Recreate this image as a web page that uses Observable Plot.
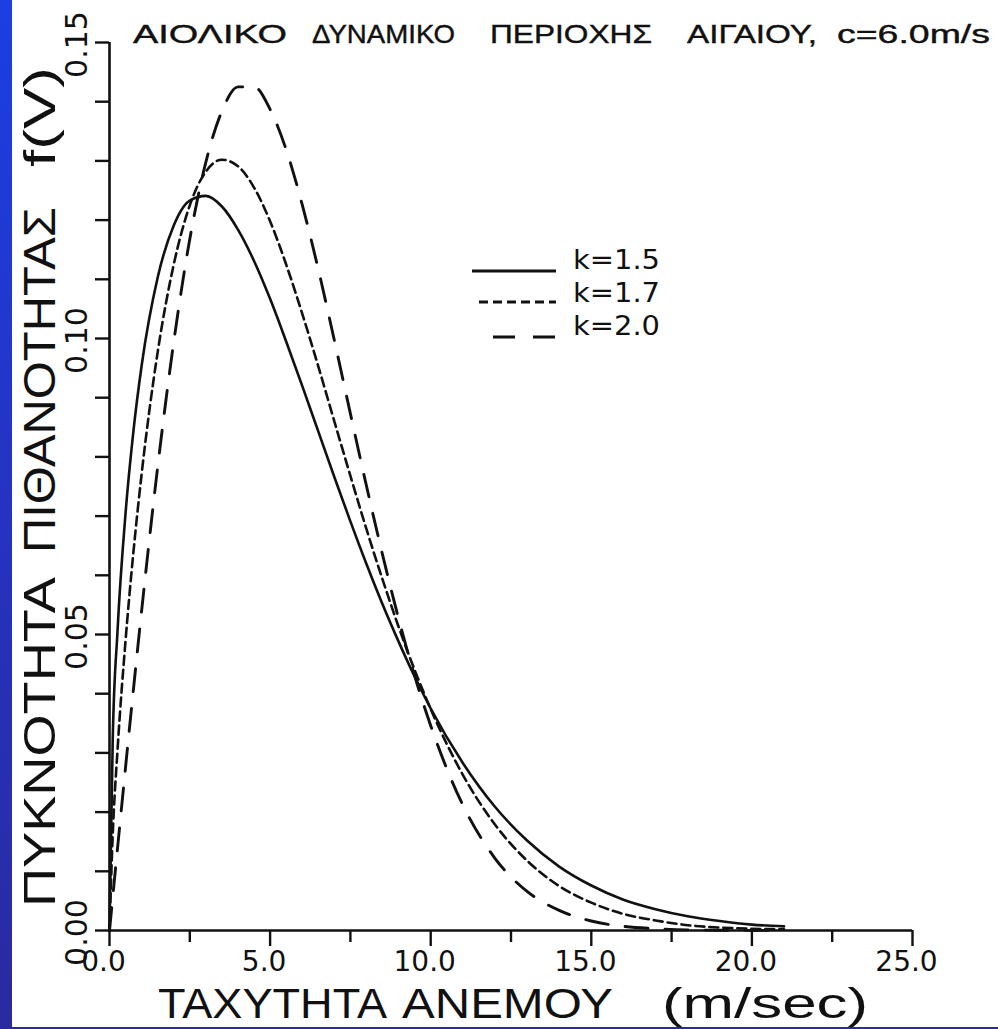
<!DOCTYPE html>
<html>
<head>
<meta charset="utf-8">
<script src="https://cdn.jsdelivr.net/npm/d3@7"></script>
<script src="https://cdn.jsdelivr.net/npm/@observablehq/plot@0.6"></script>
<style>
html, body { margin: 0; padding: 0; width: 998px; height: 1029px; overflow: hidden;
  background: linear-gradient(to bottom, #1b3fe3 0%, #2434c4 45%, #2a2aa0 100%); }
#chart { position: absolute; left: 12px; top: 0; width: 986px; height: 1027px; background: #fff; overflow: hidden; }
</style>
</head>
<body>
<div id="chart"></div>
<script>
// Wind speed (m/s) sample points along the curves
const speeds = [0, 0.1, 0.25, 0.5, 0.75, 1, 1.5, 2, 2.5, 3, 3.5, 4, 4.5, 5, 5.5, 6, 6.5, 7, 7.5, 8, 8.5, 9, 9.5, 10, 11, 12, 13, 14, 15, 16, 17, 18, 19, 20, 21];
// Probability density f(V)
const densK15 = [0, 0.0322, 0.0506, 0.0705, 0.0846, 0.0954, 0.1103, 0.1191, 0.1233, 0.1241, 0.1223, 0.1184, 0.1131, 0.1067, 0.0995, 0.0920, 0.0843, 0.0766, 0.0691, 0.0619, 0.0551, 0.0488, 0.0429, 0.0375, 0.0283, 0.0209, 0.0152, 0.0108, 0.0076, 0.0052, 0.0036, 0.0024, 0.0016, 0.0010, 0.0007];
const densK17 = [0, 0.0161, 0.0305, 0.0490, 0.0642, 0.0771, 0.0977, 0.1125, 0.1225, 0.1282, 0.1302, 0.1291, 0.1255, 0.1198, 0.1125, 0.1042, 0.0953, 0.0860, 0.0768, 0.0678, 0.0593, 0.0513, 0.0440, 0.0374, 0.0263, 0.0179, 0.0118, 0.0075, 0.0047, 0.0028, 0.0017, 0.0009, 0.0005, 0.0003, 0.0002];
const densK20 = [0, 0.0056, 0.0139, 0.0276, 0.0410, 0.0540, 0.0783, 0.0994, 0.1168, 0.1298, 0.1384, 0.1425, 0.1425, 0.1387, 0.1319, 0.1226, 0.1117, 0.0997, 0.0873, 0.0751, 0.0635, 0.0527, 0.0430, 0.0346, 0.0212, 0.0122, 0.0066, 0.0034, 0.0016, 0.0007, 0.0003, 0.0001, 0.00005, 0.00002, 0.00001];
const seriesNames = ["k=1.5", "k=1.7", "k=2.0"];
const xMajorTicks = [0, 5, 10, 15, 20, 25];
const xMinorTicks = [2.5, 7.5, 12.5, 17.5, 22.5];
const yMajorTicks = [0, 0.05, 0.10, 0.15];
const yMinorTicks = [0.01, 0.02, 0.03, 0.04, 0.06, 0.07, 0.08, 0.09, 0.11, 0.12, 0.13, 0.14];

const titleWords = ["ΑΙΟΛΙΚΟ", "ΔΥΝΑΜΙΚΟ", "ΠΕΡΙΟΧΗΣ", "ΑΙΓΑΙΟΥ,", "c=6.0m/s"];
const yTitleWords = ["ΠΥΚΝΟΤΗΤΑ", "ΠΙΘΑΝΟΤΗΤΑΣ", "f(V)"];
const xTitleWords = ["ΤΑΧΥΤΗΤΑ", "ΑΝΕΜΟΥ", "(m/sec)"];

const toRows = (vals, k) => speeds.map((v, i) => ({v, f: vals[i], k}));
const rows15 = toRows(densK15, seriesNames[0]);
const rows17 = toRows(densK17, seriesNames[1]);
const rows20 = toRows(densK20, seriesNames[2]);

const ink = "#111";
const dashes = ["none", "9,5", "23,17"];
const lineW = 2.6;

const plot = Plot.plot({
  width: 986,
  height: 1027,
  marginLeft: 97,
  marginRight: 86,
  marginTop: 42,
  marginBottom: 97,
  style: {background: "white", fontFamily: "DejaVu Sans", color: ink, overflow: "hidden"},
  x: {domain: [0, 25], label: null},
  y: {domain: [0, 0.15], label: null},
  marks: [
    Plot.axisX(xMinorTicks, {tickSize: 12, tickFormat: () => "", strokeWidth: 2.4, stroke: ink, label: null}),
    Plot.axisX(xMajorTicks, {tickSize: 16, tickFormat: () => "", strokeWidth: 2.4, stroke: ink, label: null}),
    Plot.axisX(xMajorTicks, {tickSize: 0, tickPadding: 21, tickFormat: d3.format(".1f"), fontSize: 28, fontFamily: "DejaVu Sans", dx: -6, fill: ink, label: null}),
    Plot.axisY(yMinorTicks.concat(yMajorTicks), {tickSize: 14, tickFormat: () => "", strokeWidth: 2.4, stroke: ink, label: null}),
    Plot.text(yMajorTicks, {y: d => d, frameAnchor: "left", dx: -32, dy: 2, rotate: -90, text: d3.format(".2f"),
      fontSize: 30, fontFamily: "DejaVu Sans", textAnchor: "middle", lineAnchor: "middle", fill: ink}),
    Plot.ruleY([0], {stroke: ink, strokeWidth: 2.6}),
    Plot.ruleX([0], {stroke: ink, strokeWidth: 2.6}),
    Plot.line(rows15, {x: "v", y: "f", stroke: ink, strokeWidth: lineW, curve: "monotone-x"}),
    Plot.line(rows17, {x: "v", y: "f", stroke: ink, strokeWidth: lineW, strokeDasharray: dashes[1], curve: "monotone-x"}),
    Plot.line(rows20, {x: "v", y: "f", stroke: ink, strokeWidth: lineW + 0.3, strokeDasharray: dashes[2], curve: "monotone-x"})
  ]
});
plot.style.overflow = "hidden";
document.getElementById("chart").appendChild(plot);

const svg = d3.select(plot);
const OFF = 12; // page offset of the white sheet

// Title words: [start, end] page x, baseline 43
const titleSpans = [[133, 287], [312, 455], [490, 652], [687, 817], [837, 990]];
titleWords.forEach((w, i) => {
  svg.append("text")
    .attr("x", titleSpans[i][0] - OFF).attr("y", 43)
    .attr("text-anchor", "start")
    .attr("font-family", "Liberation Sans, Arial, sans-serif").attr("font-size", 26)
    .attr("fill", ink).attr("stroke", ink).attr("stroke-width", 0.4)
    .attr("textLength", titleSpans[i][1] - titleSpans[i][0]).attr("lengthAdjust", "spacingAndGlyphs")
    .text(w);
});

// Y-axis title (rotated), baseline at page x 55, from bottom y to top y
const yTitleSpans = [[907, 577], [553, 207], [167, 67]];
yTitleWords.forEach((w, i) => {
  svg.append("text")
    .attr("transform", `translate(${55 - OFF},${yTitleSpans[i][0]}) rotate(-90)`)
    .attr("text-anchor", "start")
    .attr("font-family", "Liberation Sans, Arial, sans-serif").attr("font-size", 45)
    .attr("fill", ink)
    .attr("textLength", yTitleSpans[i][0] - yTitleSpans[i][1]).attr("lengthAdjust", "spacingAndGlyphs")
    .text(w);
});

// X-axis title
const xTitleSpans = [[158, 387], [402, 613], [662, 868]];
xTitleWords.forEach((w, i) => {
  svg.append("text")
    .attr("x", xTitleSpans[i][0] - OFF).attr("y", 1018)
    .attr("text-anchor", "start")
    .attr("font-family", "Liberation Sans, Arial, sans-serif").attr("font-size", 42)
    .attr("fill", ink)
    .attr("textLength", xTitleSpans[i][1] - xTitleSpans[i][0]).attr("lengthAdjust", "spacingAndGlyphs")
    .text(w);
});

// Legend
const legendRows = [
  {x1: 472, x2: 556, y: 271, ty: 269},
  {x1: 479, x2: 556, y: 302, ty: 302},
  {x1: 493, x2: 556, y: 337, ty: 335}
];
const legend = svg.append("g");
seriesNames.forEach((name, i) => {
  const r = legendRows[i];
  legend.append("line")
    .attr("x1", r.x1 - OFF).attr("x2", r.x2 - OFF).attr("y1", r.y).attr("y2", r.y)
    .attr("stroke", ink).attr("stroke-width", lineW + 0.3)
    .attr("stroke-dasharray", i === 2 ? "22,18" : dashes[i]);
  legend.append("text")
    .attr("x", 573 - OFF).attr("y", r.ty)
    .attr("text-anchor", "start")
    .attr("font-family", "DejaVu Sans, sans-serif").attr("font-size", 26)
    .attr("fill", ink)
    .attr("textLength", 87).attr("lengthAdjust", "spacingAndGlyphs")
    .text(name);
});
</script>
</body>
</html>
